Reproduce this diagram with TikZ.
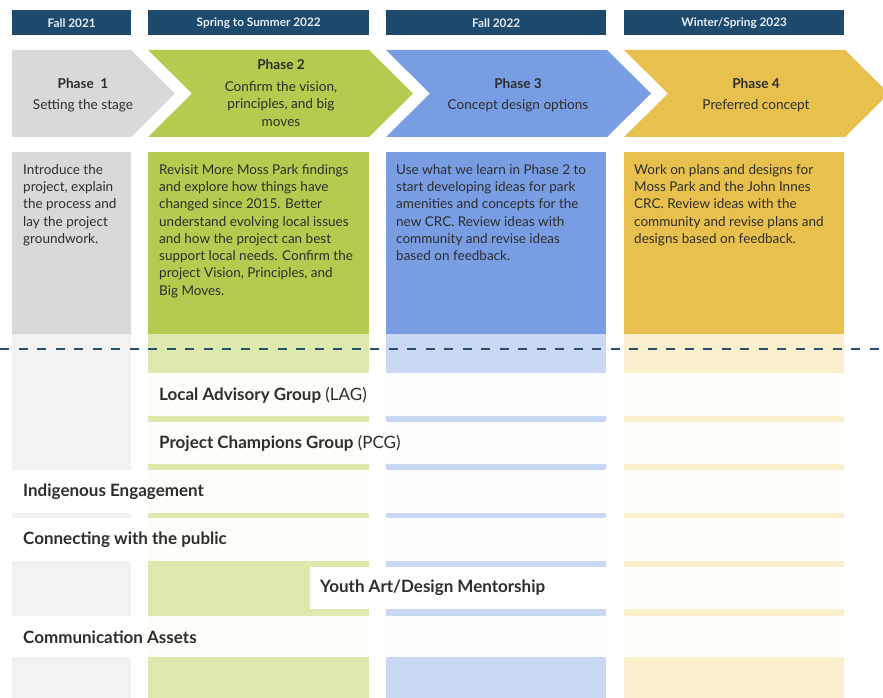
\documentclass[tikz,border=0pt]{standalone}
\usepackage{fontspec}
\setmainfont{Lato}
\definecolor{hdr}{HTML}{1E4A6E}
\definecolor{hdrtxt}{HTML}{E6EDF3}
\definecolor{txt}{HTML}{2E2E2E}
\definecolor{cgray}{HTML}{D9D9D9}
\definecolor{lgray}{HTML}{F2F2F2}
\definecolor{cgreen}{HTML}{B3CB4F}
\definecolor{lgreen}{HTML}{DEE9AE}
\definecolor{fgreen}{HTML}{FDFEF8}
\definecolor{cblue}{HTML}{789DE3}
\definecolor{lblue}{HTML}{CAD8F4}
\definecolor{fblue}{HTML}{FCFDFF}
\definecolor{cyellow}{HTML}{E8C04D}
\definecolor{lyellow}{HTML}{FBF0CD}
\definecolor{fyellow}{HTML}{FFFEF8}
\definecolor{dashcol}{HTML}{2C4E6E}
\tikzset{
  hdrbox/.style={fill=hdr, draw=none, text=hdrtxt, font=\fontsize{11.8}{13}\selectfont\bfseries, inner sep=0pt, anchor=north west},
  phasetxt/.style={text=txt, align=center, font=\fontsize{13.6}{17.5}\selectfont, inner sep=0pt},
  desctxt/.style={text=txt, align=left, font=\fontsize{13.5}{17.3}\selectfont, inner sep=0pt, anchor=north west},
  rowlbl/.style={text=txt, font=\fontsize{17}{19}\selectfont, inner sep=0pt, anchor=west},
}
\begin{document}
\begin{tikzpicture}[x=1pt,y=-1pt]
\useasboundingbox (0,0) rectangle (883,698);
\fill[white] (0,0) rectangle (883,698);
\begin{scope}
\clip (0,0) rectangle (883,698);
% headers
\node[hdrbox, minimum width=119pt, minimum height=25pt] (h1) at (12,10) {Fall 2021};
\node[hdrbox, minimum width=221pt, minimum height=25pt] (h2) at (148,10) {Spring to Summer 2022};
\node[hdrbox, minimum width=220pt, minimum height=25pt] (h3) at (386,10) {Fall 2022};
\node[hdrbox, minimum width=220pt, minimum height=25pt] (h4) at (624,10) {Winter/Spring 2023};
% chevrons
\fill[cgray] (12,50) -- (131,50) -- (175,93.5) -- (131,137) -- (12,137) -- cycle;
\fill[cgreen] (148,50) -- (369,50) -- (413,93.5) -- (369,137) -- (148,137) -- (192,93.5) -- cycle;
\fill[cblue] (386,50) -- (607,50) -- (651,93.5) -- (607,137) -- (386,137) -- (430,93.5) -- cycle;
\fill[cyellow] (624,50) -- (845,50) -- (889,93.5) -- (845,137) -- (624,137) -- (668,93.5) -- cycle;
\node[phasetxt] (p1) at (83,95) {\textbf{Phase\ \ 1}\\[4pt]Setting the stage};
\node[phasetxt] (p2) at (281,93) {\textbf{Phase 2}\\[4pt]Confirm the vision,\\principles, and big\\moves};
\node[phasetxt] (p3) at (518,95) {\textbf{Phase 3}\\[4pt]Concept design options};
\node[phasetxt] (p4) at (756,95) {\textbf{Phase 4}\\[4pt]Preferred concept};
% column 1
\fill[cgray] (12,152) rectangle (131,334);
\fill[lgray] (12,334) rectangle (131,470);
\fill[lgray] (12,513) rectangle (131,518);
\fill[lgray] (12,561) rectangle (131,616);
\fill[lgray] (12,657) rectangle (131,698);
% column 2
\fill[cgreen] (148,152) rectangle (369,334);
\fill[lgreen] (148,334) rectangle (369,373);
\fill[fgreen] (148,373) rectangle (369,657);
\fill[lgreen] (148,416) rectangle (369,422);
\fill[lgreen] (148,464) rectangle (369,470);
\fill[lgreen] (148,513) rectangle (369,518);
\fill[lgreen] (148,561) rectangle (369,616);
\fill[lgreen] (148,657) rectangle (369,698);
% column 3
\fill[cblue] (386,152) rectangle (606,334);
\fill[lblue] (386,334) rectangle (606,373);
\fill[fblue] (386,373) rectangle (606,657);
\fill[lblue] (386,416) rectangle (606,422);
\fill[lblue] (386,464) rectangle (606,470);
\fill[lblue] (386,513) rectangle (606,518);
\fill[lblue] (386,561) rectangle (606,616);
\fill[lblue] (386,657) rectangle (606,698);
% column 4
\fill[cyellow] (624,152) rectangle (844,334);
\fill[lyellow] (624,334) rectangle (844,373);
\fill[fyellow] (624,373) rectangle (844,657);
\fill[lyellow] (624,416) rectangle (844,422);
\fill[lyellow] (624,464) rectangle (844,470);
\fill[lyellow] (624,513) rectangle (844,518);
\fill[lyellow] (624,561) rectangle (844,567);
\fill[lyellow] (624,609) rectangle (844,616);
\fill[lyellow] (624,657) rectangle (844,698);
% descriptions
\node[desctxt] (d1) at (23,164) {Introduce the\\project, explain\\the process and\\lay the project\\groundwork.};
\node[desctxt] (d2) at (159,164) {Revisit More Moss Park findings\\and explore how things have\\changed since 2015. Better\\understand evolving local issues\\and how the project can best\\support local needs. Confirm the\\project Vision, Principles, and\\Big Moves.};
\node[desctxt] (d3) at (396,164) {Use what we learn in Phase 2 to\\start developing ideas for park\\amenities and concepts for the\\new CRC. Review ideas with\\community and revise ideas\\based on feedback.};
\node[desctxt] (d4) at (634,164) {Work on plans and designs for\\Moss Park and the John Innes\\CRC. Review ideas with the\\community and revise plans and\\designs based on feedback.};
% dashed divider
\coordinate (dl) at (0,349);
\coordinate (dr) at (883,349);
\draw[dashcol, line width=2.2pt, dash pattern=on 9pt off 9.5pt] (dl) -- (dr);
% youth box
\fill[white] (310,567) rectangle (606,609);
% row labels
\node[rowlbl] (lag) at (159,395) {\textbf{Local Advisory Group} (LAG)};
\node[rowlbl] (pcg) at (159,443) {\textbf{Project Champions Group} (PCG)};
\node[rowlbl] (ind) at (23,492) {\textbf{Indigenous Engagement}};
\node[rowlbl] (pub) at (23,540) {\textbf{Connecting with the public}};
\node[rowlbl] (yth) at (320,588) {\textbf{Youth Art/Design Mentorship}};
\node[rowlbl] (com) at (23,637) {\textbf{Communication Assets}};
\end{scope}
\end{tikzpicture}
\end{document}
